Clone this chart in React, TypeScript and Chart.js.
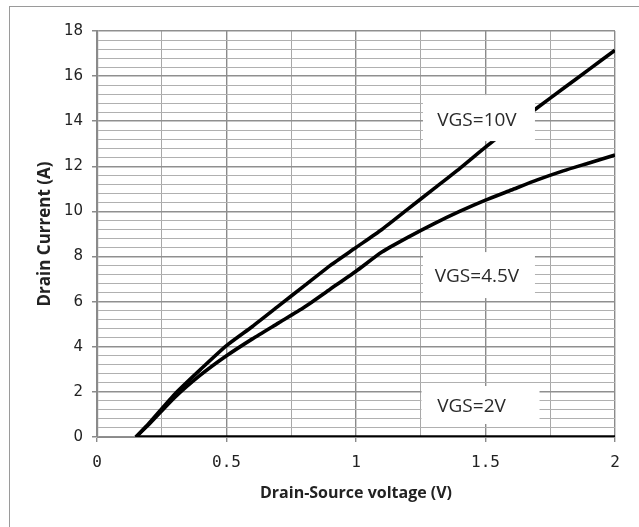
import React, { useEffect, useRef } from "react";
import { Chart, registerables } from "chart.js";

Chart.register(...registerables);

// Drain-source voltage samples (V)
const vds = [0.15, 0.2, 0.3, 0.4, 0.5, 0.6, 0.7, 0.8, 0.9, 1.0, 1.1, 1.2, 1.3, 1.4, 1.5, 1.6, 1.7, 1.8, 1.9, 2.0];
// Drain current (A) for VGS = 10 V
const id10V = [0, 0.6, 1.9, 3.0, 4.05, 4.9, 5.8, 6.7, 7.6, 8.4, 9.2, 10.1, 11.0, 11.9, 12.85, 13.75, 14.6, 15.45, 16.3, 17.15];
// Drain current (A) for VGS = 4.5 V
const id45V = [0, 0.55, 1.75, 2.75, 3.6, 4.35, 5.05, 5.75, 6.55, 7.35, 8.2, 8.85, 9.45, 10.0, 10.5, 10.95, 11.4, 11.8, 12.15, 12.5];
// VGS = 2 V stays at zero current
const vds2V = [0.15, 2.0];
const id2V = [0, 0];

// Curve labels (text, anchor in data coordinates)
const labelTexts = ["VGS=10V", "VGS=4.5V", "VGS=2V"];
const labelX = [1.467, 1.467, 1.446];
const labelY = [14.05, 7.09, 1.33];

const xTitle = "Drain-Source voltage (V)";
const yTitle = "Drain Current (A)";

const toPoints = (xs: number[], ys: number[]) => xs.map((x, i) => ({ x, y: ys[i] }));

const isMultiple = (v: number, m: number) => Math.abs(v / m - Math.round(v / m)) < 1e-6;

const labelPlugin = {
  id: "curveLabels",
  afterDatasetsDraw(chart: any) {
    const { ctx, scales } = chart;
    const xs = scales.x;
    const ys = scales.y;
    ctx.save();
    ctx.font = "19px 'Open Sans'";
    ctx.textAlign = "center";
    ctx.textBaseline = "middle";
    labelTexts.forEach((t, i) => {
      const px = xs.getPixelForValue(labelX[i]);
      const py = ys.getPixelForValue(labelY[i]);
      const w = i === 2 ? 118 : 112;
      const h = i === 2 ? 38 : 46;
      const dx = i === 2 ? 9 : 2;
      ctx.fillStyle = "#ffffff";
      ctx.fillRect(px - w / 2 + dx, py - h / 2 - 2, w, h);
      ctx.fillStyle = "#2a2a2a";
      ctx.fillText(t, px, py);
    });
    ctx.restore();
  },
};

export default function App() {
  const ref = useRef<HTMLCanvasElement | null>(null);

  useEffect(() => {
    if (!ref.current) return;
    const chart = new Chart(ref.current, {
      type: "scatter",
      data: {
        datasets: [
          {
            label: "VGS=10V",
            data: toPoints(vds, id10V),
            showLine: true,
            borderColor: "#000000",
            borderWidth: 3.6,
            pointRadius: 0,
            tension: 0.2,
          },
          {
            label: "VGS=4.5V",
            data: toPoints(vds, id45V),
            showLine: true,
            borderColor: "#000000",
            borderWidth: 3.6,
            pointRadius: 0,
            tension: 0.2,
          },
          {
            label: "VGS=2V",
            data: toPoints(vds2V, id2V),
            showLine: true,
            borderColor: "#000000",
            borderWidth: 3.6,
            pointRadius: 0,
          },
        ],
      },
      options: {
        responsive: false,
        animation: false,
        layout: { padding: { top: 31, right: 24, left: 0, bottom: 0 } },
        plugins: {
          legend: { display: false },
          tooltip: { enabled: false },
        },
        scales: {
          x: {
            type: "linear",
            min: 0,
            max: 2,
            afterFit: (s: any) => {
              s.height = 90;
            },
            ticks: {
              stepSize: 0.25,
              autoSkip: false,
              maxRotation: 0,
              padding: 11,
              color: "#222",
              font: { family: "'DejaVu Sans Mono'", size: 16 },
              callback: (v: any) => (isMultiple(Number(v), 0.5) ? String(Number(v)) : ""),
            },
            grid: {
              color: (c: any) => (isMultiple(c.tick.value, 0.5) ? "#8a8a8a" : "#a8a8a8"),
              lineWidth: (c: any) => (isMultiple(c.tick.value, 0.5) ? 1.4 : 1),
              tickColor: (c: any) => (isMultiple(c.tick.value, 0.5) ? "#8a8a8a" : "rgba(0,0,0,0)"),
              tickLength: 5,
            },
            border: { color: "#8a8a8a", width: 1 },
            title: {
              display: true,
              text: xTitle,
              color: "#222",
              font: { family: "'Open Sans'", size: 16, weight: "bold" },
              padding: { top: 0, bottom: 24 },
            },
          },
          y: {
            type: "linear",
            min: 0,
            max: 18,
            afterFit: (s: any) => {
              s.width = 97;
            },
            ticks: {
              stepSize: 0.4,
              maxTicksLimit: 1000,
              autoSkip: false,
              padding: 9,
              color: "#222",
              font: { family: "'DejaVu Sans'", size: 15 },
              callback: (v: any) => (isMultiple(Number(v), 2) ? String(Math.round(Number(v))) : ""),
            },
            grid: {
              color: (c: any) => (isMultiple(c.tick.value, 2) ? "#8f8f8f" : "#b0b0b0"),
              lineWidth: (c: any) => (isMultiple(c.tick.value, 2) ? 1.5 : 1),
              tickColor: (c: any) => (isMultiple(c.tick.value, 2) ? "#8a8a8a" : "rgba(0,0,0,0)"),
              tickLength: 5,
            },
            border: { color: "#8a8a8a", width: 2.2 },
            title: {
              display: true,
              text: yTitle,
              color: "#222",
              font: { family: "'Open Sans'", size: 17, weight: "bold" },
              padding: { top: 35, bottom: 0 },
            },
          },
        },
      },
      plugins: [labelPlugin],
    });
    return () => chart.destroy();
  }, []);

  return (
    <div style={{ position: "absolute", left: 0, top: 0, width: 639, height: 527, background: "#fff" }}>
      <canvas ref={ref} width={639} height={527} style={{ position: "absolute", left: 0, top: 0, width: 639, height: 527 }} />
      <div
        style={{
          position: "absolute",
          left: 9,
          top: 6,
          width: 630,
          height: 521,
          borderLeft: "1.5px solid #9a9a9a",
          borderTop: "1.5px solid #9a9a9a",
          boxSizing: "border-box",
          pointerEvents: "none",
        }}
      />
    </div>
  );
}
